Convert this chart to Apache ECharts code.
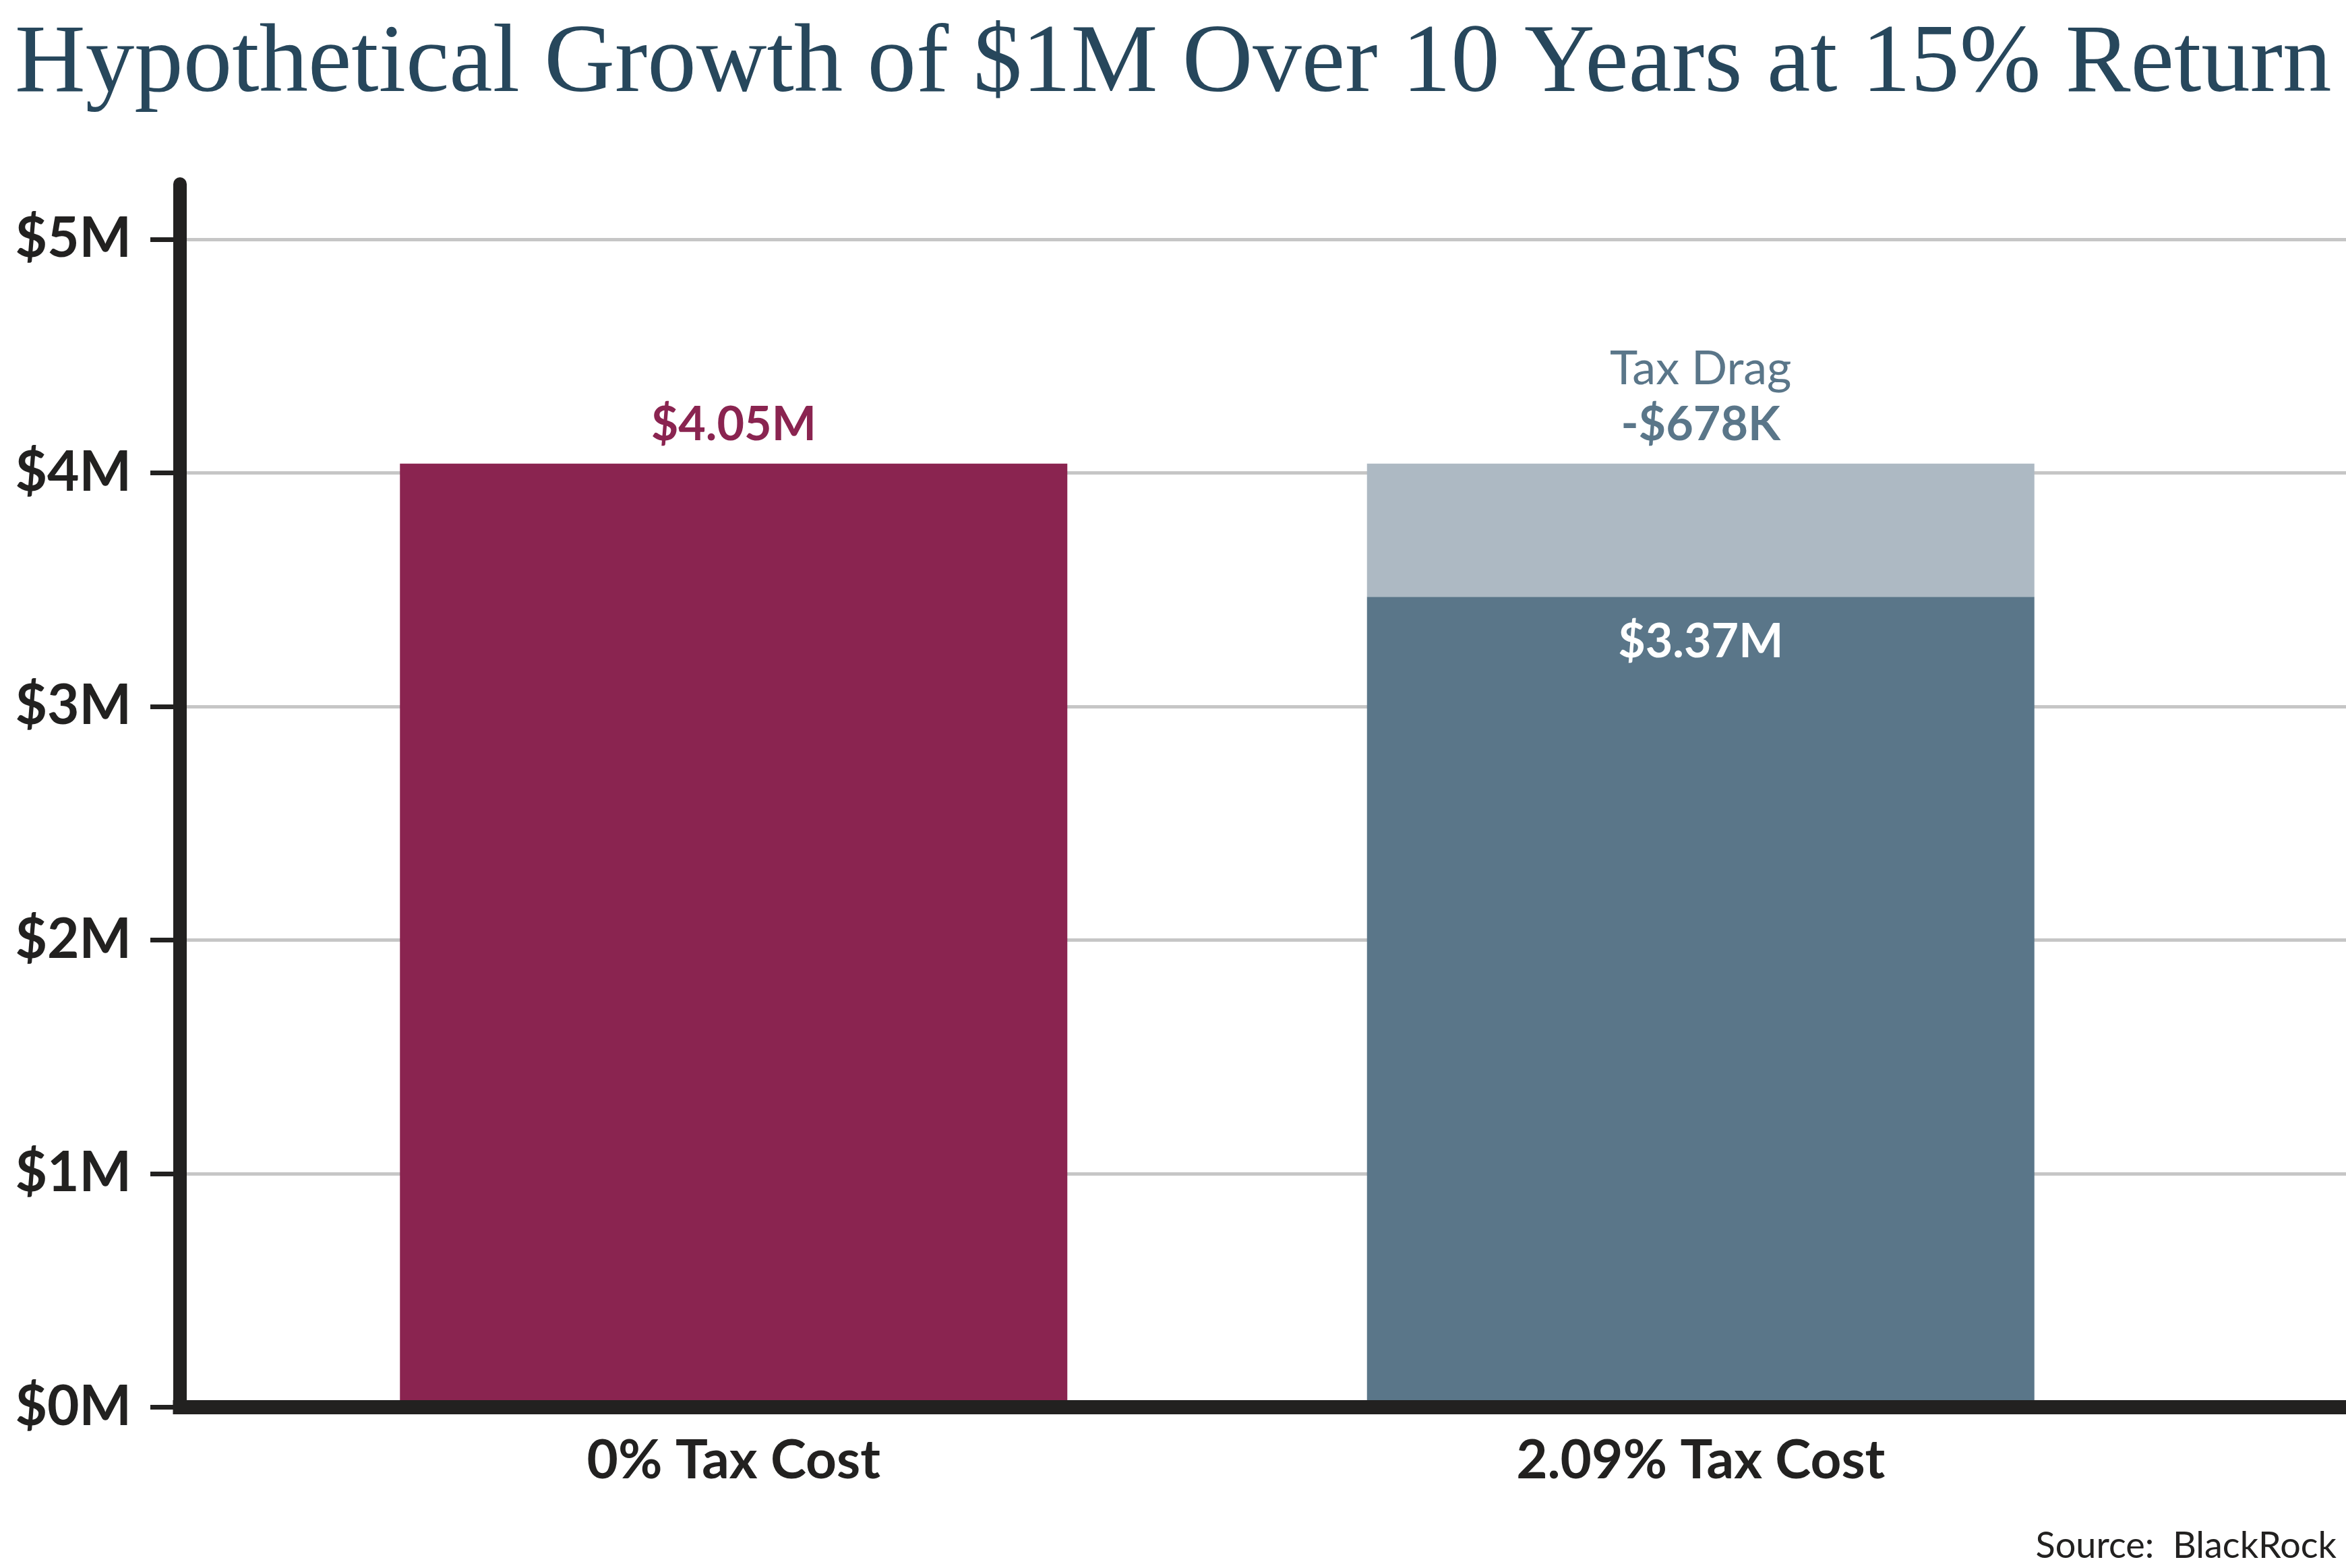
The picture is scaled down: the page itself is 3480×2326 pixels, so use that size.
<!DOCTYPE html>
<html>
<head>
<meta charset="utf-8">
<title>Hypothetical Growth of $1M</title>
<script src="https://cdn.jsdelivr.net/npm/echarts@6.0.0/dist/echarts.min.js"></script>
<style>
    html, body {margin: 0; padding: 0; background: #fff;}
    #growth {width: 3480px; height: 2326px;}
</style>
</head>
<body>
<div id="growth"></div>
<script>
// 数据 (values in $M)
var categories = ['0% Tax Cost', '2.09% Tax Cost'];
var afterTax = [4.04, 3.47];
var taxDrag = [null, 0.57];
var valueLabels = ['$4.05M', '$3.37M'];
var dragLabels = ['Tax Drag', '-$678K'];
var yTicks = [0, 1, 2, 3, 4, 5];

var MAROON = '#8A2450';
var SLATE = '#5A7689';
var LIGHT = '#ADB9C3';
var INK = '#222120';

var GRID_BOTTOM = 238.5;

var myChart = echarts.init(document.getElementById('growth'));

var option = {
    backgroundColor: '#fff',
    animation: false,
    title: [
        {
            text: 'Hypothetical Growth of $1M Over 10 Years at 15% Return',
            left: 22,
            top: 24,
            padding: 0,
            textStyle: {
                fontFamily: 'Liberation Serif',
                fontWeight: 'normal',
                fontSize: 145,
                color: '#27475C'
            }
        },
        {
            text: 'Source:  BlackRock',
            right: 14,
            top: 2267,
            padding: 0,
            textStyle: {
                fontFamily: 'Lato',
                fontWeight: 'normal',
                fontSize: 54,
                color: INK
            }
        }
    ],
    grid: [
        // bars
        {left: 371, right: 240, top: 355, bottom: GRID_BOTTOM},
        // ticks, labels, gridlines, x axis line
        {left: 267, right: 0, top: 355, bottom: GRID_BOTTOM},
        // tall y axis line
        {left: 267, right: 0, top: 273, bottom: GRID_BOTTOM}
    ],
    xAxis: [
        {
            gridIndex: 0,
            type: 'category',
            data: categories,
            axisLine: {show: false},
            axisTick: {show: false},
            axisLabel: {
                margin: 40,
                fontFamily: 'Lato',
                fontWeight: 'bold',
                fontSize: 80,
                color: INK
            }
        },
        {
            gridIndex: 1,
            type: 'value',
            min: 0,
            max: 1,
            axisLine: {show: true, lineStyle: {color: INK, width: 21, cap: 'square'}},
            axisTick: {show: false},
            axisLabel: {show: false},
            splitLine: {show: false},
            z: 5
        },
        {
            gridIndex: 2,
            type: 'value',
            show: false
        }
    ],
    yAxis: [
        {
            gridIndex: 0,
            type: 'value',
            min: 0,
            max: 5,
            show: false
        },
        {
            gridIndex: 1,
            type: 'value',
            min: yTicks[0],
            max: yTicks[yTicks.length - 1],
            interval: 1,
            axisLine: {show: false},
            axisTick: {show: true, length: 44, lineStyle: {color: INK, width: 7}},
            axisLabel: {
                margin: 72,
                fontFamily: 'Lato',
                fontWeight: 'bold',
                fontSize: 82,
                color: INK,
                formatter: function (v) {
                    return '$' + v + 'M';
                }
            },
            splitLine: {show: true, lineStyle: {color: '#C6C6C6', width: 5}}
        },
        {
            gridIndex: 2,
            type: 'value',
            min: 0,
            max: 1,
            axisLine: {show: true, lineStyle: {color: INK, width: 20}},
            axisTick: {show: false},
            axisLabel: {show: false},
            splitLine: {show: false},
            z: 5
        }
    ],
    series: [
        {
            name: 'After-tax value',
            type: 'bar',
            stack: 'total',
            xAxisIndex: 0,
            yAxisIndex: 0,
            barWidth: 990,
            data: afterTax.map(function (v, i) {
                var first = i === 0;
                return {
                    value: v,
                    itemStyle: {color: first ? MAROON : SLATE},
                    label: {
                        show: true,
                        position: first ? 'top' : 'insideTop',
                        distance: first ? 16 : 26,
                        formatter: valueLabels[i],
                        fontFamily: 'Lato',
                        fontWeight: 'bold',
                        fontSize: 70,
                        lineHeight: 83,
                        color: first ? MAROON : '#fff'
                    }
                };
            })
        },
        {
            name: 'Tax drag',
            type: 'bar',
            stack: 'total',
            xAxisIndex: 0,
            yAxisIndex: 0,
            barWidth: 990,
            itemStyle: {color: LIGHT},
            label: {
                show: true,
                position: 'top',
                distance: 16,
                formatter: '{a|' + dragLabels[0] + '}\n{b|' + dragLabels[1] + '}',
                rich: {
                    a: {fontFamily: 'Lato', fontWeight: 'normal', fontSize: 70, lineHeight: 83, color: SLATE},
                    b: {fontFamily: 'Lato', fontWeight: 'bold', fontSize: 70, lineHeight: 83, color: SLATE}
                }
            },
            data: taxDrag
        }
    ]
};

myChart.setOption(option);
</script>
</body>
</html>
